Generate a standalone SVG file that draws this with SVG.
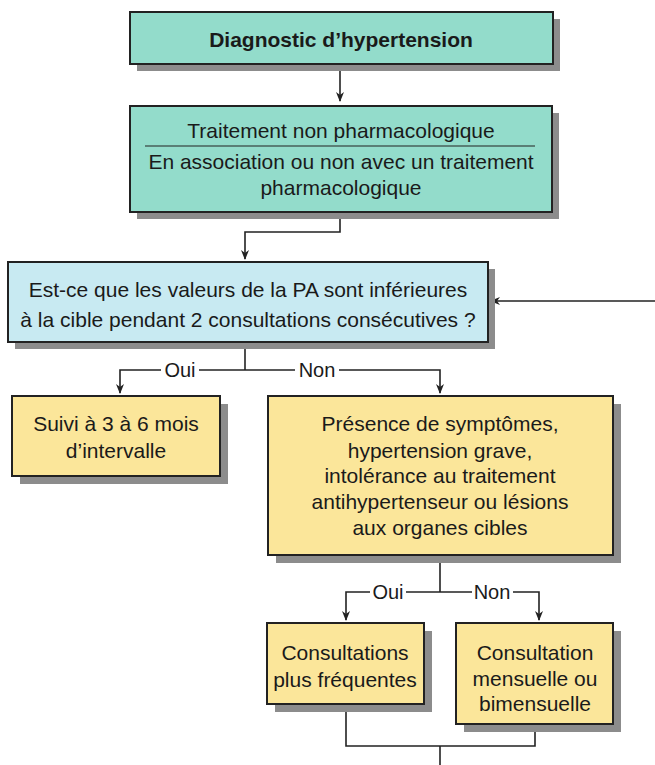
<svg xmlns="http://www.w3.org/2000/svg" width="655" height="765" viewBox="0 0 655 765">
<defs>
<marker id="arr" markerWidth="10" markerHeight="10" refX="9" refY="5" orient="auto" markerUnits="userSpaceOnUse">
<path d="M0,1 L10,5 L0,9 L3,5 Z" fill="#222"/>
</marker>
</defs>
<style>
.sh{fill:#8c8c8c}
.box{stroke:#222;stroke-width:2}
.teal{fill:#93dccb}
.blue{fill:#c8eaf2}
.yel{fill:#fbe69a}
text{font-family:"Liberation Sans",Arial,sans-serif;font-size:21px;fill:#1a1a1a;text-anchor:middle}
.b{font-weight:bold}
.lab{font-size:20px}
.ln{fill:none;stroke:#222;stroke-width:1.6}
</style>
<rect width="655" height="765" fill="#fff"/>
<g id="connectors">
<path class="ln" d="M340,64 V101" marker-end="url(#arr)"/>
<path class="ln" d="M340,212 V232 H245 V259" marker-end="url(#arr)"/>
<path class="ln" d="M655,301 H491" marker-end="url(#arr)"/>
<path class="ln" d="M245,342 V370"/>
<path class="ln" d="M161,370 H120 V393" marker-end="url(#arr)"/>
<path class="ln" d="M199,370 H295"/>
<path class="ln" d="M339,370 H440 V393" marker-end="url(#arr)"/>
<path class="ln" d="M440,555 V592"/>
<path class="ln" d="M370,592 H346 V620" marker-end="url(#arr)"/>
<path class="ln" d="M406,592 H472"/>
<path class="ln" d="M513,592 H539 V620" marker-end="url(#arr)"/>
<path class="ln" d="M346,704 V746 H535 V724"/>
<path class="ln" d="M440,746 V765"/>
<text class="lab" x="180" y="377">Oui</text>
<text class="lab" x="317" y="377">Non</text>
<text class="lab" x="388" y="599">Oui</text>
<text class="lab" x="492" y="599">Non</text>
</g>
<g id="n1">
<rect class="sh" x="137" y="19" width="423" height="52"/>
<rect class="box teal" x="130" y="12" width="423" height="52"/>
<text class="b" x="341" y="47">Diagnostic d’hypertension</text>
</g>
<g id="n2">
<rect class="sh" x="137" y="113" width="422" height="106"/>
<rect class="box teal" x="130" y="106" width="422" height="106"/>
<text x="341" y="138">Traitement non pharmacologique</text>
<line x1="145" y1="146" x2="535" y2="146" stroke="#222" stroke-width="1.2"/>
<text x="341" y="169">En association ou non avec un traitement</text>
<text x="341" y="195">pharmacologique</text>
</g>
<g id="n3">
<rect class="sh" x="15" y="269" width="480" height="80"/>
<rect class="box blue" x="8" y="262" width="480" height="80"/>
<text x="248" y="297">Est-ce que les valeurs de la PA sont inférieures</text>
<text x="248" y="327">à la cible pendant 2 consultations consécutives ?</text>
</g>
<g id="n4">
<rect class="sh" x="20" y="404" width="208" height="80"/>
<rect class="box yel" x="12" y="396" width="208" height="80"/>
<text x="116" y="431">Suivi à 3 à 6 mois</text>
<text x="116" y="458">d’intervalle</text>
</g>
<g id="n5">
<rect class="sh" x="276" y="404" width="345" height="159"/>
<rect class="box yel" x="268" y="396" width="345" height="159"/>
<text x="440" y="431">Présence de symptômes,</text>
<text x="440" y="458">hypertension grave,</text>
<text x="440" y="483">intolérance au traitement</text>
<text x="440" y="509">antihypertenseur ou lésions</text>
<text x="440" y="535">aux organes cibles</text>
</g>
<g id="n6">
<rect class="sh" x="275" y="631" width="157" height="81"/>
<rect class="box yel" x="267" y="623" width="157" height="81"/>
<text x="345" y="660">Consultations</text>
<text x="345" y="687">plus fréquentes</text>
</g>
<g id="n7">
<rect class="sh" x="464" y="631" width="157" height="101"/>
<rect class="box yel" x="456" y="623" width="157" height="101"/>
<text x="535" y="660">Consultation</text>
<text x="535" y="686">mensuelle ou</text>
<text x="535" y="711">bimensuelle</text>
</g>
</svg>
